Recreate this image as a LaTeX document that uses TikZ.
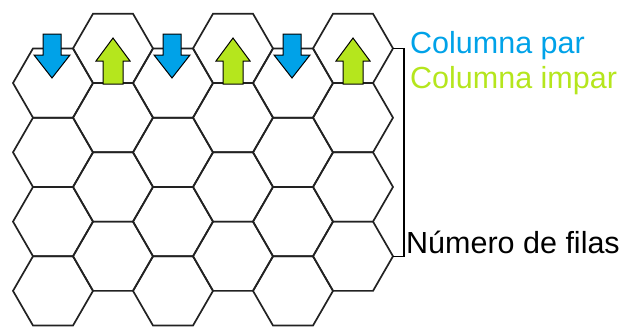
\documentclass[tikz,border=0pt]{standalone}
\usepackage{fontspec}
\setmainfont{Liberation Sans}
\usetikzlibrary{shapes.geometric}
\definecolor{arrblue}{HTML}{00A2E8}
\definecolor{arrgreen}{HTML}{B5E61D}
\definecolor{hexline}{HTML}{222222}
\begin{document}
\begin{tikzpicture}[x=1pt,y=-1pt,
  hexcell/.style={regular polygon, regular polygon sides=6, minimum size=80pt,
    inner sep=0pt, outer sep=0pt, draw=hexline, line width=1.7pt},
  arrowshape/.style={draw=black, line width=1pt, line join=miter},
  downarr/.pic={\draw[arrowshape, fill=arrblue] (-9,34) -- (9,34) -- (9,55) -- (18,55) -- (0,78) -- (-18,55) -- (-9,55) -- cycle;},
  uparr/.pic={\draw[arrowshape, fill=arrgreen] (-10,84) -- (10,84) -- (10,61) -- (17,61) -- (0,38) -- (-17,61) -- (-10,61) -- cycle;},
  lbl/.style={anchor=base west, inner sep=0pt, font=\fontsize{30.5}{36}\selectfont}]
\useasboundingbox (0,0) rectangle (628,327);
\foreach \i in {0,...,5}{
  \pgfmathsetmacro{\cx}{53+60*\i}
  \pgfmathsetmacro{\off}{mod(\i,2)==0 ? 34.64 : 0}
  \foreach \k in {0,...,3}{
    \pgfmathsetmacro{\cy}{48.4+\off+69.28*\k}
    \node[hexcell] (hex-\i-\k) at (\cx,\cy) {};
  }
}
\pic at (52,0) {downarr};
\pic at (172,0) {downarr};
\pic at (292,0) {downarr};
\pic at (113,0) {uparr};
\pic at (233,0) {uparr};
\pic at (353,0) {uparr};
\draw[line width=1.2pt, black] (hex-5-0.east) -- ++(11,0) |- (hex-5-3.east);
\node[lbl, text=arrblue] (txt-par) at (410,53) {Columna par};
\node[lbl, text=arrgreen] (txt-impar) at (410,88) {Columna impar};
\node[lbl, text=black] (txt-filas) at (406,253) {Número de filas};
\end{tikzpicture}
\end{document}
